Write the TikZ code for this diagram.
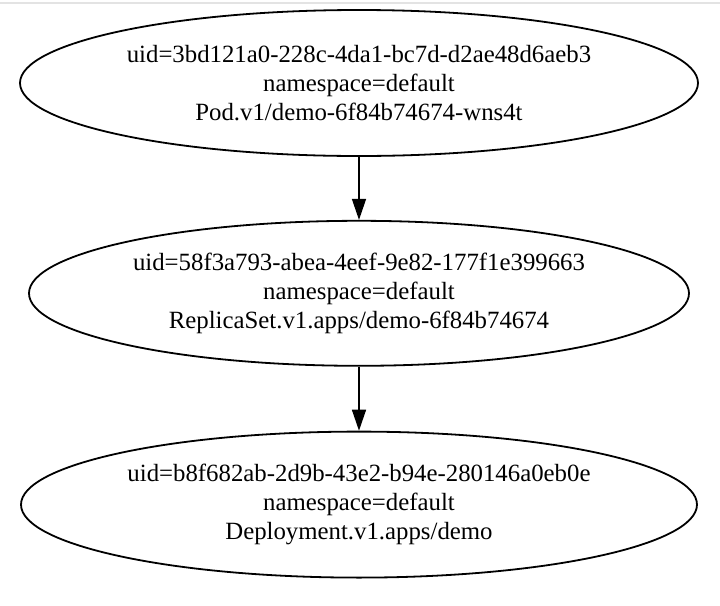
\documentclass[tikz,border=0pt]{standalone}
\usepackage{fontspec}
\setmainfont{Liberation Serif}
\usetikzlibrary{positioning, arrows.meta, shapes.geometric}

\begin{document}
\begin{tikzpicture}[
  node distance=31.5pt,
  obj/.style={draw, ellipse, line width=0.9pt, inner sep=0pt,
              align=center, font=\fontsize{12.4}{14.5}\selectfont},
  >={Triangle[length=10.5pt, width=7pt]}
]
  \useasboundingbox (0,0) rectangle (360pt,-303pt);
  \fill[black!11] (0,-0.8pt) rectangle (360pt,-2pt);

  % Nodes
  \node[obj, minimum width=339pt, minimum height=73pt] (pod) at (179.5pt,-41.5pt)
    {uid=3bd121a0-228c-4da1-bc7d-d2ae48d6aeb3\\namespace=default\\Pod.v1/demo-6f84b74674-wns4t};
  \node[obj, minimum width=330pt, minimum height=72.5pt, below=of pod] (rs)
    {uid=58f3a793-abea-4eef-9e82-177f1e399663\\namespace=default\\ReplicaSet.v1.apps/demo-6f84b74674};
  \node[obj, minimum width=338pt, minimum height=73pt, below=32pt of rs] (deploy)
    {uid=b8f682ab-2d9b-43e2-b94e-280146a0eb0e\\namespace=default\\Deployment.v1.apps/demo};

  % Edges
  \draw[->, line width=0.75pt] (pod) -- (rs);
  \draw[->, line width=0.75pt] (rs) -- (deploy);
\end{tikzpicture}
\end{document}
